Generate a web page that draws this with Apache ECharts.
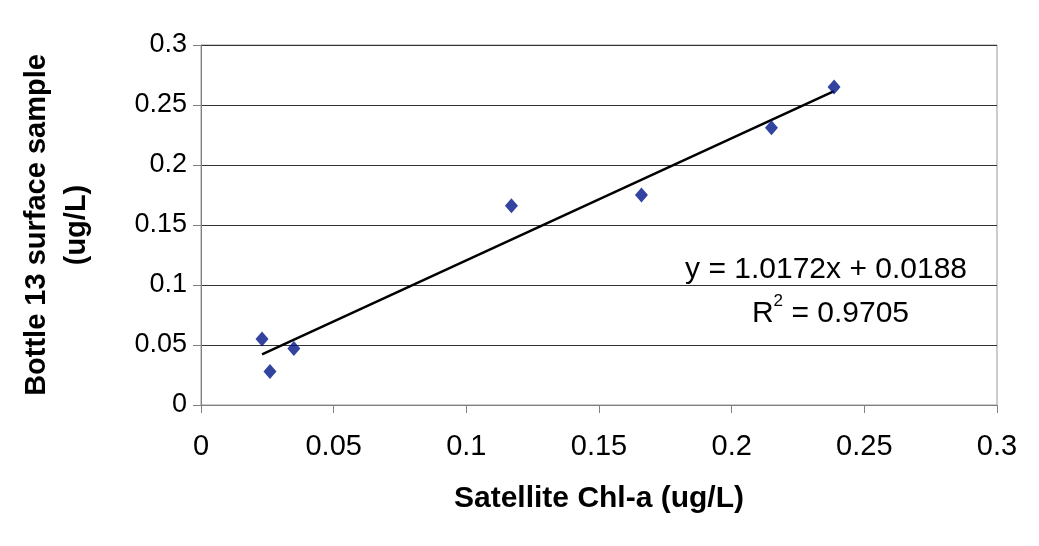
<!DOCTYPE html>
<html>
<head>
<meta charset="utf-8">
<script src="https://cdn.jsdelivr.net/npm/echarts@6/dist/echarts.min.js"></script>
<style>
  html, body { margin: 0; padding: 0; background: #fff; }
  #chart { width: 1039px; height: 546px; }
</style>
</head>
<body>
<div id="chart"></div>
<script>
const satelliteChl = [0.023, 0.026, 0.035, 0.117, 0.166, 0.215, 0.2386]
const bottleSample = [0.055, 0.028, 0.047, 0.166, 0.175, 0.231, 0.265]
const slope = 1.0172
const intercept = 0.0188
const rSquared = 0.9705

const chartDom = document.querySelector('#chart')
let chart = echarts.init(chartDom)

let points = satelliteChl.map((x, i) => [x, bottleSample[i]])

// trendline drawn over the range of the data
let xMin = Math.min(...satelliteChl)
let xMax = Math.max(...satelliteChl)
let trendLine = [
    [xMin, slope * xMin + intercept],
    [xMax, slope * xMax + intercept]
]

const font = 'Arial, "Liberation Sans", sans-serif'

let option = {
    animation: false,
    grid: {
        left: 201,
        right: 42,
        top: 45,
        bottom: 141,
        show: true,
        borderColor: '#9a9a9a',
        borderWidth: 1
    },
    xAxis: {
        type: 'value',
        min: 0,
        max: 0.3,
        interval: 0.05,
        name: 'Satellite Chl-a (ug/L)',
        nameLocation: 'middle',
        nameGap: 79,
        nameTextStyle: { fontFamily: font, fontSize: 30, fontWeight: 'bold', color: '#000' },
        axisLine: { lineStyle: { color: '#808080', width: 1 } },
        axisTick: { show: true, length: 8, lineStyle: { color: '#808080' } },
        axisLabel: { fontFamily: font, fontSize: 29, color: '#000', margin: 27 },
        splitLine: { show: false }
    },
    yAxis: {
        type: 'value',
        min: 0,
        max: 0.3,
        interval: 0.05,
        name: 'Bottle 13 surface sample\n(ug/L)',
        nameLocation: 'middle',
        nameGap: 104,
        nameTextStyle: { fontFamily: font, fontSize: 29, fontWeight: 'bold', color: '#000', lineHeight: 40 },
        axisLine: { show: true, lineStyle: { color: '#808080', width: 1 } },
        axisTick: { show: true, length: 8, lineStyle: { color: '#808080' } },
        axisLabel: { fontFamily: font, fontSize: 27, color: '#000', margin: 14 },
        splitLine: { show: true, lineStyle: { color: '#333', width: 1 } }
    },
    series: [
        {
            type: 'line',
            data: trendLine,
            symbol: 'none',
            lineStyle: { color: '#000', width: 2.5 },
            z: 2
        },
        {
            type: 'scatter',
            data: points,
            symbol: 'diamond',
            symbolSize: [13, 15],
            itemStyle: { color: '#001488' },
            z: 3
        }
    ],
    graphic: [
        {
            type: 'text',
            right: 72,
            top: 255,
            style: {
                text: 'y = 1.0172x + 0.0188',
                font: '30px ' + font,
                fill: '#000'
            }
        },
        {
            type: 'text',
            right: 130,
            top: 293,
            style: {
                text: '{t|R}{s|2}{t| = ' + rSquared.toFixed(4) + '}',
                rich: {
                    t: { fontFamily: font, fontSize: 30, color: '#000', verticalAlign: 'bottom', lineHeight: 36 },
                    s: { fontFamily: font, fontSize: 17, color: '#000', verticalAlign: 'top', lineHeight: 17 }
                }
            }
        }
    ]
}

chart.setOption(option)
</script>
</body>
</html>
